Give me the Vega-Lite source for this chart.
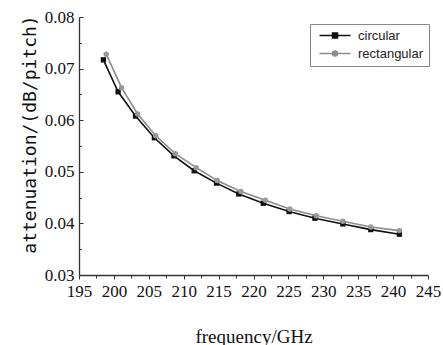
{
  "$schema": "https://vega.github.io/schema/vega-lite/v6.json",
  "width": 349,
  "height": 258,
  "autosize": {"type": "none"},
  "padding": {"left": 79, "top": 17, "right": 15, "bottom": 70},
  "background": "white",
  "config": {
    "view": {"stroke": null},
    "axis": {"grid": false, "domainColor": "#333", "tickColor": "#333"}
  },
  "data": {
    "values": [
      {"series": "circular", "f": 198.5, "a": 0.0717},
      {"series": "circular", "f": 200.6, "a": 0.0655},
      {"series": "circular", "f": 203.1, "a": 0.0608},
      {"series": "circular", "f": 205.8, "a": 0.0566},
      {"series": "circular", "f": 208.6, "a": 0.0531},
      {"series": "circular", "f": 211.5, "a": 0.0502},
      {"series": "circular", "f": 214.7, "a": 0.0478},
      {"series": "circular", "f": 217.9, "a": 0.0457},
      {"series": "circular", "f": 221.4, "a": 0.0439},
      {"series": "circular", "f": 225.1, "a": 0.0423},
      {"series": "circular", "f": 228.8, "a": 0.0410},
      {"series": "circular", "f": 232.8, "a": 0.0399},
      {"series": "circular", "f": 236.8, "a": 0.0388},
      {"series": "circular", "f": 240.9, "a": 0.0379},
      {"series": "rectangular", "f": 198.9, "a": 0.0728},
      {"series": "rectangular", "f": 201.1, "a": 0.0663},
      {"series": "rectangular", "f": 203.4, "a": 0.0612},
      {"series": "rectangular", "f": 206.0, "a": 0.0570},
      {"series": "rectangular", "f": 208.8, "a": 0.0535},
      {"series": "rectangular", "f": 211.8, "a": 0.0508},
      {"series": "rectangular", "f": 214.8, "a": 0.0483},
      {"series": "rectangular", "f": 218.2, "a": 0.0462},
      {"series": "rectangular", "f": 221.7, "a": 0.0445},
      {"series": "rectangular", "f": 225.2, "a": 0.0428},
      {"series": "rectangular", "f": 229.0, "a": 0.0415},
      {"series": "rectangular", "f": 232.8, "a": 0.0404},
      {"series": "rectangular", "f": 236.8, "a": 0.0393},
      {"series": "rectangular", "f": 240.9, "a": 0.0386}
    ]
  },
  "encoding": {
    "x": {
      "field": "f", "type": "quantitative",
      "scale": {"domain": [195, 245], "nice": false, "zero": false},
      "axis": {
        "title": "frequency/GHz",
        "titleFont": "Liberation Serif", "titleFontSize": 19, "titleFontWeight": "normal", "titleColor": "#111",
        "titlePadding": 28,
        "values": [195,197.5,200,202.5,205,207.5,210,212.5,215,217.5,220,222.5,225,227.5,230,232.5,235,237.5,240,242.5,245],
        "labelExpr": "datum.value % 5 === 0 ? format(datum.value, 'd') : ''",
        "labelOverlap": false,
        "labelFont": "Liberation Serif", "labelFontSize": 17, "labelColor": "#111",
        "labelPadding": 4,
        "labelFlush": false,
        "domainWidth": 1.3,
        "tickSize": {"condition": {"test": "datum.value % 5 === 0", "value": 4}, "value": 3}
      }
    },
    "y": {
      "field": "a", "type": "quantitative",
      "scale": {"domain": [0.03, 0.08], "nice": false, "zero": false},
      "axis": {
        "title": "attenuation/(dB/pitch)",
        "titleFont": "DejaVu Sans Mono", "titleFontSize": 18, "titleFontWeight": "normal", "titleColor": "#111",
        "titlePadding": 5,
        "titleY": 117,
        "values": [0.03,0.035,0.04,0.045,0.05,0.055,0.06,0.065,0.07,0.075,0.08],
        "labelExpr": "round(datum.value * 1000) % 10 === 0 ? format(datum.value, '.2f') : ''",
        "labelOverlap": false,
        "labelFont": "Liberation Serif", "labelFontSize": 17, "labelColor": "#111",
        "labelPadding": 9,
        "labelFlush": false,
        "domainWidth": 1.3,
        "tickSize": {"condition": {"test": "round(datum.value * 1000) % 10 === 0", "value": -4}, "value": -2.5}
      }
    }
  },
  "layer": [
    {
      "mark": {"type": "line", "strokeWidth": 1.6},
      "encoding": {
        "order": {"field": "f"},
        "color": {
          "field": "series", "type": "nominal",
          "scale": {"domain": ["circular", "rectangular"], "range": ["#111111", "#8c8c8c"]},
          "legend": {
            "title": null,
            "orient": "none", "legendX": 231, "legendY": 7,
            "padding": 5,
            "strokeColor": "#888", "fillColor": "white",
            "labelFont": "Liberation Sans", "labelFontSize": 13, "labelColor": "#222",
            "symbolSize": 16,
            "labelOffset": 30,
            "rowPadding": 4,
            "encode": {
              "symbols": {
                "update": {
                  "shape": {"signal": "datum.value === 'circular' ? 'M-1,0H14.5M5.5,-1.25H8V1.25H5.5Z' : 'M-1,0H14.5M5.5,0A1.25,1.25,0,1,1,8,0A1.25,1.25,0,1,1,5.5,0Z'"},
                  "strokeWidth": {"value": 1.5},
                  "fill": {"signal": "datum.value === 'circular' ? '#111111' : '#999999'"},
                  "fillOpacity": {"value": 1}
                }
              }
            }
          }
        }
      }
    },
    {
      "transform": [{"filter": "datum.series === 'circular'"}],
      "mark": {"type": "point", "filled": true, "size": 28, "opacity": 1, "shape": "square", "color": "#111111"}
    },
    {
      "transform": [{"filter": "datum.series === 'rectangular'"}],
      "mark": {"type": "point", "filled": true, "size": 30, "opacity": 1, "shape": "circle", "color": "#999999"}
    }
  ]
}
